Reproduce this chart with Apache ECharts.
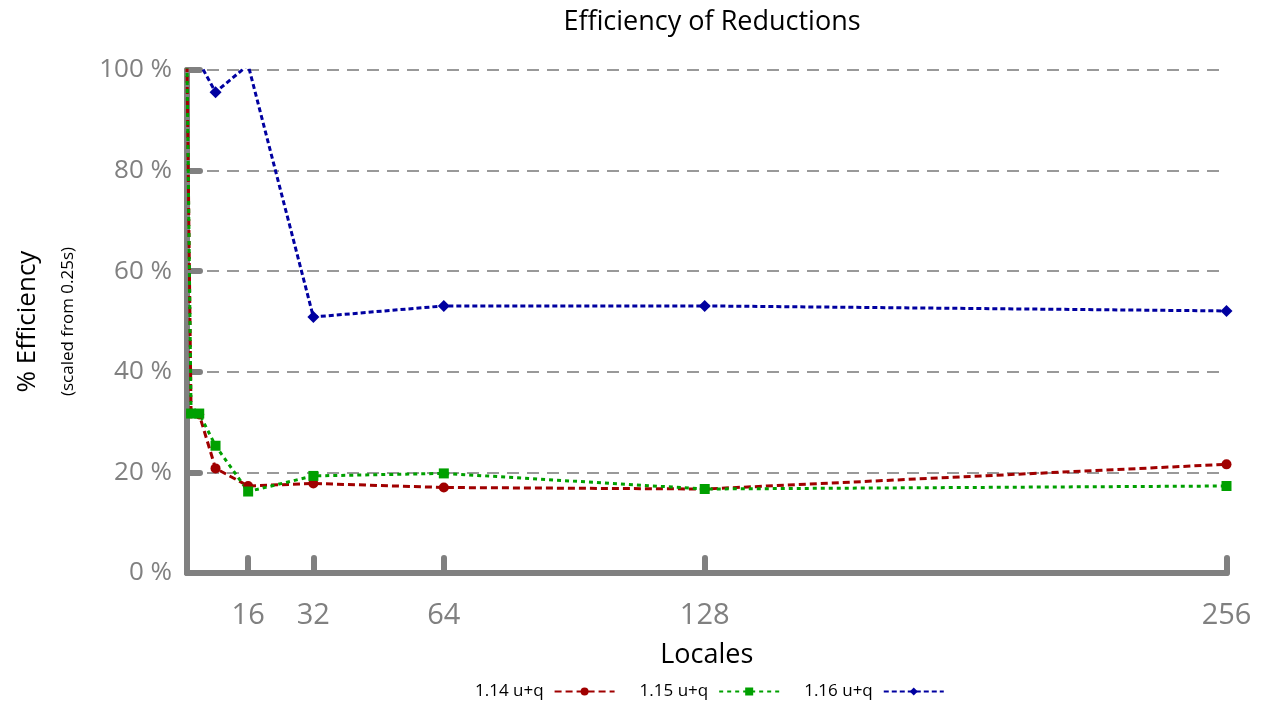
<!DOCTYPE html>
<html>
<head>
<meta charset="utf-8">
<script src="https://cdn.jsdelivr.net/npm/echarts@6/dist/echarts.min.js"></script>
<style>html,body{margin:0;padding:0;background:#fff}#c{width:1261px;height:704px}</style>
</head>
<body>
<div id="c"></div>
<script>
const locales = [1, 2, 4, 8, 16, 32, 64, 128, 256];
const xTickValues = [1, 16, 32, 64, 128, 256];
const xLabelValues = [16, 32, 64, 128, 256];
const seriesNames = ['1.14 u+q', '1.15 u+q', '1.16 u+q'];
const eff114 = [101, 31.7, 31.5, 20.8, 17.3, 17.8, 17.0, 16.7, 21.6];
const eff115 = [101, 31.7, 31.7, 25.3, 16.2, 19.3, 19.8, 16.7, 17.3];
const eff116 = [130, 115, 101.5, 95.6, 101, 50.9, 53.1, 53.1, 52.1];

const pairs = v => locales.map((x, i) => [x, v[i]]);
const font = "'Open Sans', 'DejaVu Sans', sans-serif";
const grey = '#808080';

const chart = echarts.init(document.getElementById('c'));
chart.setOption({
  animation: false,
  title: {
    text: 'Efficiency of Reductions',
    left: 707, top: 4, textAlign: 'center',
    textStyle: {fontFamily: font, fontSize: 27, fontWeight: 'normal', color: '#000'}
  },
  legend: {
    top: 678, left: 470, align: 'right',
    itemWidth: 60, itemHeight: 10, itemGap: 24,
    textStyle: {fontFamily: font, fontSize: 17, color: '#000', padding: [0, 6, 0, 0]},
    data: seriesNames
  },
  grid: {left: 187, right: 34.5, top: 70, bottom: 131, outerBoundsMode: 'none', containLabel: false},
  xAxis: {
    type: 'value', min: 1, max: 256,
    name: 'Locales', nameLocation: 'middle', nameGap: 69,
    nameTextStyle: {fontFamily: font, fontSize: 27, color: '#000'},
    axisLine: {lineStyle: {color: grey, width: 6, cap: 'round'}},
    axisTick: {inside: true, length: 15, customValues: xTickValues,
      lineStyle: {color: grey, width: 6, cap: 'round'}},
    axisLabel: {customValues: xLabelValues, margin: 28,
      fontFamily: font, fontSize: 29, color: grey},
    splitLine: {show: false}
  },
  yAxis: {
    type: 'value', min: 0, max: 100, interval: 20,
    name: '% Efficiency\n{s|(scaled from 0.25s)}',
    nameLocation: 'middle', nameGap: 101, nameRotate: 90,
    nameTextStyle: {fontFamily: font, fontSize: 26, color: '#000', lineHeight: 44,
      rich: {s: {fontFamily: font, fontSize: 17, color: '#000', lineHeight: 36}}},
    axisLine: {show: true, lineStyle: {color: grey, width: 6, cap: 'round'}},
    axisTick: {inside: true, length: 13, lineStyle: {color: grey, width: 6, cap: 'round'}},
    axisLabel: {formatter: '{value} %', margin: 15,
      fontFamily: font, fontSize: 26, color: grey},
    splitLine: {show: true, lineStyle: {color: '#999', width: 2, type: [12, 8]}}
  },
  series: [
    {name: seriesNames[0], type: 'line', data: pairs(eff114), clip: true,
      symbol: 'circle', symbolSize: 10,
      itemStyle: {color: '#a00000'},
      lineStyle: {color: '#a00000', width: 3, type: [7, 4]}},
    {name: seriesNames[1], type: 'line', data: pairs(eff115), clip: true,
      symbol: 'rect', symbolSize: 10,
      itemStyle: {color: '#00a000'},
      lineStyle: {color: '#00a000', width: 3, type: [4, 4]}},
    {name: seriesNames[2], type: 'line', data: pairs(eff116), clip: true,
      symbol: 'diamond', symbolSize: 12,
      itemStyle: {color: '#0000a0'},
      lineStyle: {color: '#0000a0', width: 3, type: [5, 3]}}
  ]
});
</script>
</body>
</html>
